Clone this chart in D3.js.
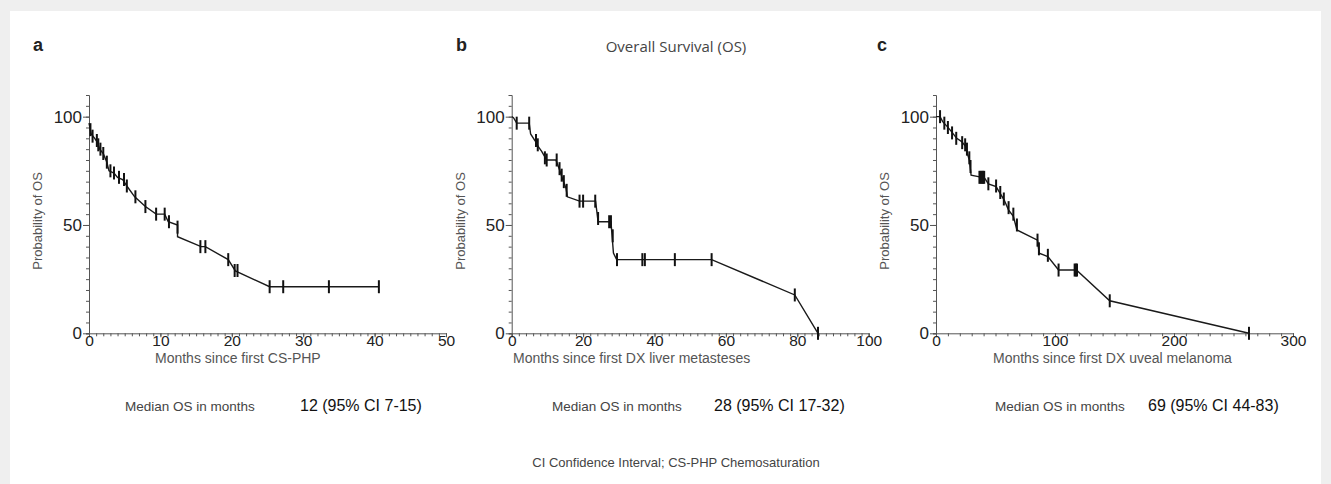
<!DOCTYPE html>
<html><head><meta charset="utf-8">
<script src="https://cdn.jsdelivr.net/npm/d3@7"></script>
<style>
html,body{margin:0;padding:0;background:#efefef;}
svg{display:block;}
</style></head>
<body>
<svg id="chart" width="1331" height="484"></svg>
<script>
// ---------- data ----------
const panelLetters = ["a", "b", "c"];
const chartTitle = "Overall Survival (OS)";
const yTitle = "Probability of OS";
const xTitles = ["Months since first CS-PHP", "Months since first DX liver metasteses", "Months since first DX uveal melanoma"];
const xMaxes = [50, 100, 300];
const xMajorTicks = [[0, 10, 20, 30, 40, 50], [0, 20, 40, 60, 80, 100], [0, 100, 200, 300]];
const xMinorSteps = [1, 2, 10];
const yMajorTicks = [0, 50, 100];
const yMax = 110;
const medianLabel = "Median OS in months";
const medianValues = ["12 (95% CI 7-15)", "28 (95% CI 17-32)", "69 (95% CI 44-83)"];
const footnote = "CI Confidence Interval; CS-PHP Chemosaturation";

const curveA = [[0,97],[0.3,92],[0.8,90],[1.2,88],[1.5,85],[2.0,83],[2.5,79],[2.8,75],[3.5,74],[4.0,72],[4.7,71],[5.3,68],[6.4,63],[7.9,58.5],[9.4,55],[10.6,55],[11.1,51.5],[12.4,50],[12.4,44.6],[15.7,40],[16.3,40],[19.5,34],[20.5,28.8],[25.3,21.5],[40.6,21.5]];
const censorA = [[0.2,94],[0.5,91],[1.1,89],[1.3,87],[1.6,85],[2.0,83],[2.5,79],[3.0,75],[3.5,74],[4.2,72],[4.9,71],[5.3,68],[6.5,63],[7.9,58.5],[9.4,55],[10.6,55],[11.2,51.5],[12.4,49],[15.6,40],[16.3,40],[19.5,34],[20.4,29],[20.8,29],[25.3,21.5],[27.2,21.5],[33.6,21.5],[40.6,21.5]];

const curveB = [[0,100],[0.5,99.5],[1.4,97],[4.9,97],[5.3,92],[6.5,89],[7.5,86],[8.4,84],[9.8,80],[12.4,80],[13.5,75],[14.3,71],[15.2,67],[15.6,63],[19.0,61],[23.5,61],[24.2,51.5],[27.8,51.5],[28.5,37],[29.4,34],[56,34],[79.3,17.7],[85.8,0]];
const censorB = [[1.4,97],[4.9,97],[6.8,89],[7.3,87],[9.3,81],[9.8,80],[12.6,80],[13.4,76],[14,73],[14.6,70],[15.4,66],[19,61],[20,61],[23.4,61],[24.2,53],[27.3,51.5],[27.8,51.5],[28.3,45],[29.5,34],[36.6,34],[37.3,34],[45.7,34],[56,34],[79.3,17.7],[85.8,0]];

const curveC = [[0,100],[3.4,100],[5.6,97.7],[9.5,95.4],[13.2,93],[17.4,90],[21.6,88.5],[25.3,86],[26.4,83],[28,80],[29.5,73],[35.6,72.3],[41,71.5],[44,69],[50.5,67.7],[53.9,64.6],[57.3,61.5],[60.9,57],[65,54],[68,47.7],[85.3,43],[86.7,37],[94,35.4],[103,29.2],[118,29.2],[146,15],[263,0]];
const censorC = [[3.4,100],[7,97],[10,95],[13.5,92.5],[17,90],[22,88],[24.5,87],[26,85],[28,81],[29,77],[36.5,72],[37.5,72],[38.5,72],[39.5,72],[40.5,72],[44,69],[50.5,68],[54,65],[57,62],[61,58],[65,55],[68,50],[85.3,43],[86.5,39],[94,36],[103,29.2],[116.5,29.2],[117.5,29.2],[118.5,29.2],[146,15],[263,0]];

const curves = [curveA, curveB, curveC];
const censors = [censorA, censorB, censorC];

// ---------- layout ----------
const svg = d3.select("#chart");
svg.append("rect").attr("x", 10).attr("y", 11).attr("width", 1311).attr("height", 473).attr("fill", "#fff");

const panelX0 = [89, 511.7, 936];
const panelW = 357;
const yTop = 95, yBottom = 333.3;
const letterX = [33, 456, 877];
const xTitleX = [155, 513, 993];
const medLabelX = [125, 552, 995];
const medValX = [300, 714, 1148];

const sans = "'Liberation Sans', Arial, sans-serif";
const narrow = "'Liberation Sans Narrow', 'Arial Narrow', 'Liberation Sans', sans-serif";

svg.append("text").attr("x", 676).attr("y", 52).attr("text-anchor", "middle")
  .attr("font-family", "'Open Sans', sans-serif").attr("font-size", 15).attr("fill", "#444").text(chartTitle);

svg.append("text").attr("x", 676).attr("y", 467).attr("text-anchor", "middle")
  .attr("font-family", narrow).attr("font-size", 13).attr("fill", "#444").text(footnote);

panelLetters.forEach((L, i) => {
  const x = d3.scaleLinear().domain([0, xMaxes[i]]).range([panelX0[i], panelX0[i] + panelW]);
  const y = d3.scaleLinear().domain([0, yMax]).range([yBottom, yTop]);
  const g = svg.append("g");

  g.append("text").attr("x", letterX[i]).attr("y", 51).attr("font-family", narrow)
    .attr("font-weight", "bold").attr("font-size", 18).attr("fill", "#222").text(L);

  // x axis
  const xMinor = d3.range(0, xMaxes[i] + 1e-9, xMinorSteps[i]);
  const xa = g.append("g").attr("transform", `translate(0,${yBottom})`)
    .call(d3.axisBottom(x).tickValues(xMinor).tickSize(3).tickFormat(""));
  xa.select(".domain").attr("stroke", "#555");
  xa.selectAll(".tick line").attr("stroke", "#555");
  const xb = g.append("g").attr("transform", `translate(0,${yBottom})`)
    .call(d3.axisBottom(x).tickValues(xMajorTicks[i]).tickSize(4).tickPadding(-2).tickFormat(d3.format("d")));
  xb.select(".domain").remove();
  xb.selectAll(".tick line").attr("stroke", "#555");
  xb.selectAll(".tick text").attr("font-family", sans).attr("font-size", 15.5).attr("fill", "#222");

  // y axis
  const yMinor = d3.range(0, yMax + 1e-9, 5);
  const ya = g.append("g").attr("transform", `translate(${panelX0[i]},0)`)
    .call(d3.axisLeft(y).tickValues(yMinor).tickSize(3).tickFormat(""));
  ya.select(".domain").attr("stroke", "#555");
  ya.selectAll(".tick line").attr("stroke", "#555");
  const yb = g.append("g").attr("transform", `translate(${panelX0[i]},0)`)
    .call(d3.axisLeft(y).tickValues(yMajorTicks).tickSize(6).tickPadding(1).tickFormat(d3.format("d")));
  yb.select(".domain").remove();
  yb.selectAll(".tick line").attr("stroke", "#555");
  yb.selectAll(".tick text").attr("font-family", sans).attr("font-size", 17).attr("fill", "#222");

  g.append("text").attr("transform", `translate(${panelX0[i] - 47},${(y(100) + y(0)) / 2 - 4}) rotate(-90)`)
    .attr("text-anchor", "middle").attr("font-family", sans).attr("font-size", 13).attr("fill", "#555").text(yTitle);

  g.append("text").attr("x", xTitleX[i]).attr("y", 363).attr("font-family", sans)
    .attr("font-size", 14).attr("fill", "#555").text(xTitles[i]);

  // curve
  g.append("path").datum(curves[i]).attr("fill", "none").attr("stroke", "#1a1a1a").attr("stroke-width", 1.4)
    .attr("d", d3.line().x(d => x(d[0])).y(d => y(d[1])));
  g.selectAll(".cens").data(censors[i]).join("line")
    .attr("x1", d => x(d[0])).attr("x2", d => x(d[0]))
    .attr("y1", d => y(d[1]) - 6.5).attr("y2", d => y(d[1]) + 6.5)
    .attr("stroke", "#111").attr("stroke-width", 2);

  // median text
  g.append("text").attr("x", medLabelX[i]).attr("y", 411).attr("font-family", narrow)
    .attr("font-size", 13.5).attr("fill", "#444").text(medianLabel);
  g.append("text").attr("x", medValX[i]).attr("y", 411).attr("font-family", narrow)
    .attr("font-size", 16).attr("fill", "#111").text(medianValues[i]);
});
</script>
</body></html>
